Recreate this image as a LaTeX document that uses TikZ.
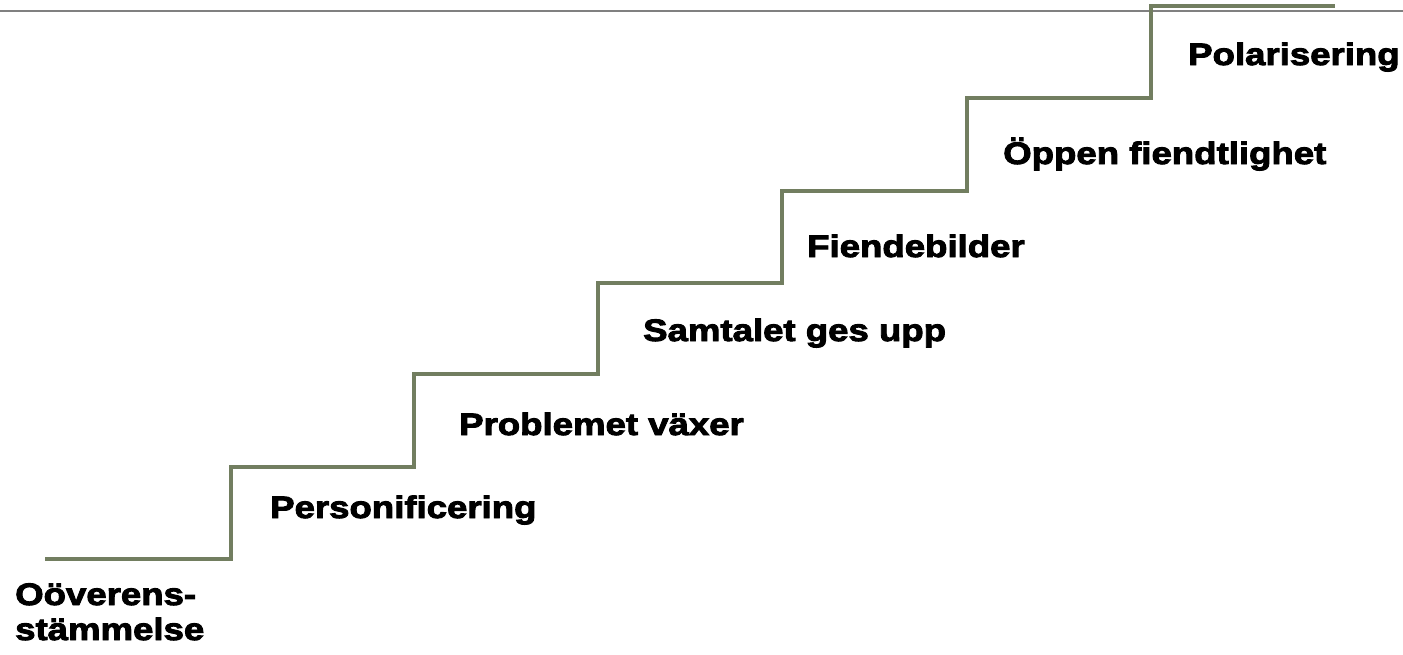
\documentclass[tikz,border=0pt]{standalone}
\usepackage{fontspec}
\newfontfamily\blackfont{Liberation Sans Bold}[FakeBold=3,FakeStretch=1.18]
\definecolor{stairgreen}{RGB}{114,126,96}
\definecolor{rulegray}{RGB}{128,128,128}
\tikzset{
  steplabel/.style={anchor=base west,inner sep=0pt,font=\blackfont\fontsize{31}{35}\selectfont,text=black},
  stairline/.style={draw=stairgreen,line width=3.5pt,line join=miter},
  topline/.style={draw=rulegray,line width=1.5pt}
}
\begin{document}
\begin{tikzpicture}[x=1pt,y=-1pt]
\useasboundingbox (0,0) rectangle (1403,654);
\draw[topline] (0,11) -- (1403,11);
\draw[stairline] (45,559) -- (231,559) -- (231,467) -- (414,467) -- (414,374)
  -- (598,374) -- (598,283) -- (782,283) -- (782,191) -- (967,191)
  -- (967,98) -- (1151,98) -- (1151,6) -- (1335,6);
\node[steplabel] (oov1) at (15,605) {Oöverens-};
\node[steplabel] (oov2) at (15,640) {stämmelse};
\node[steplabel] (pers) at (270,518) {Personificering};
\node[steplabel] (prob) at (459,435) {Problemet växer};
\node[steplabel] (samt) at (643,341) {Samtalet ges upp};
\node[steplabel] (fien) at (807,257) {Fiendebilder};
\node[steplabel] (oppen) at (1003,164) {Öppen fiendtlighet};
\node[steplabel] (pola) at (1188,65) {Polarisering};
\end{tikzpicture}
\end{document}
